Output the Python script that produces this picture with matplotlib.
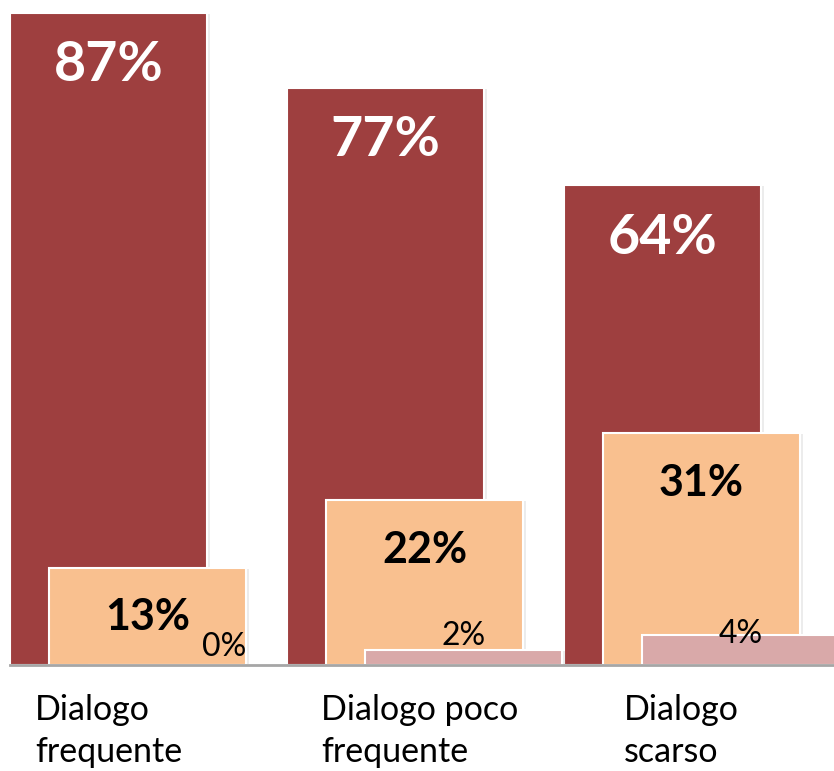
import matplotlib
matplotlib.use("Agg")
import matplotlib.pyplot as plt
import matplotlib.patheffects as pe

plt.rcParams['font.family'] = ['Lato', 'DejaVu Sans']

# data
categories = ["Dialogo\nfrequente", "Dialogo poco\nfrequente", "Dialogo\nscarso"]
serie_a = [87, 77, 64]   # dark red
serie_b = [13, 22, 31]   # orange
serie_c = [0, 2, 4]      # pink

colori = ["#9E3F3F", "#F9C08F", "#D9A9A9"]

fig = plt.figure(figsize=(8.34, 7.71), dpi=100)
ax = fig.add_axes([10/834, 106/771, 824/834, 665/771])

w = 0.711
off = 0.1408
shadow = [pe.SimplePatchShadow(offset=(2, -1), alpha=0.15, shadow_rgbFace="gray"), pe.Normal()]

xs = list(range(len(categories)))
for j, serie in enumerate([serie_a, serie_b, serie_c]):
    pos = [x + (j - 1) * off for x in xs]
    bars = ax.bar(pos, serie, width=w, color=colori[j], edgecolor="white", linewidth=1.5, zorder=2 + j)
    for b in bars:
        b.set_path_effects(shadow)

# labels for the big bars
for x, v in zip(xs, serie_a):
    ax.annotate(f"{v}%", (x - off, v), xytext=(0, -38), textcoords="offset points",
                ha="center", va="center", color="white", fontsize=40, fontweight="bold", zorder=10)
for x, v in zip(xs, serie_b):
    ax.annotate(f"{v}%", (x, v), xytext=(0, -36), textcoords="offset points",
                ha="center", va="center", color="black", fontsize=31, fontweight="bold", zorder=10)
# small labels, nudged like in the original
nudge = [(27, 13), (0, 10), (0, 1)]
for x, v, (dx, dy) in zip(xs, serie_c, nudge):
    ax.annotate(f"{v}%", (x + off, v), xytext=(dx, dy), textcoords="offset points",
                ha="center", va="center", color="black", fontsize=23, zorder=10)

ax.set_xlim(-0.496, 2.478)
ax.set_ylim(0, 665/7.5)

for s in ["top", "right", "left"]:
    ax.spines[s].set_visible(False)
ax.spines["bottom"].set_color("#A6A6A6")
ax.spines["bottom"].set_linewidth(2)
ax.spines["bottom"].set_zorder(20)
ax.set_yticks([])
ax.set_xticks([])

label_x = [-0.406, 0.627, 1.718]
for lx, lab in zip(label_x, categories):
    ax.text(lx, -3.9, lab, ha="left", va="top", fontsize=24.5, linespacing=1.36,
            transform=ax.transData, clip_on=False)

fig.savefig("out.png", dpi=100)
